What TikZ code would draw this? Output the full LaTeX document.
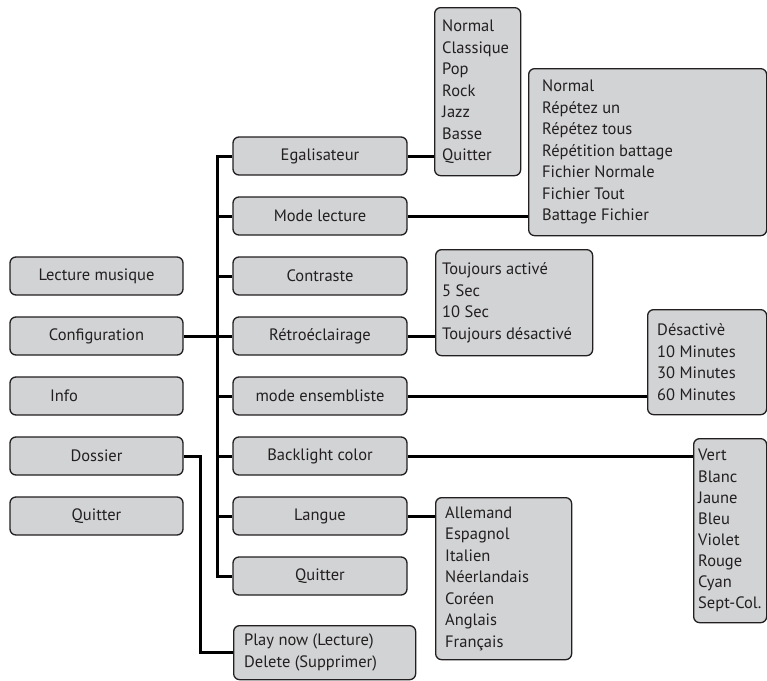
\documentclass[tikz,border=0pt]{standalone}
\usepackage{fontspec}
\setmainfont{PT Sans}
\definecolor{boxfill}{HTML}{D1D3D4}
\definecolor{ink}{HTML}{231F20}
\begin{document}
\begin{tikzpicture}[x=1pt,y=-1pt,
  every node/.style={font=\fontsize{16.5}{21.5}\selectfont, text=ink},
  mbox/.style={draw=ink, fill=boxfill, line width=1.3pt, rounded corners=6pt, minimum width=173pt, minimum height=38pt, inner sep=0pt},
  lbox/.style={draw=ink, fill=boxfill, line width=1.3pt, rounded corners=6pt, anchor=north west, inner sep=0pt},
  ltext/.style={anchor=west, align=left, inner sep=0pt},
  conn/.style={draw=black, line width=3pt}]
\useasboundingbox (0,0) rectangle (767,680);
% main menu
\node[mbox] (lecture) at (96.5,276) {Lecture musique};
\node[mbox] (config) at (96.5,336) {Configuration};
\node[mbox] (info) at (96.5,396) {Info\kern65pt\relax};
\node[mbox] (dossier) at (96.5,456) {Dossier};
\node[mbox] (quit1) at (96.5,516) {Quitter};
% configuration submenu
\node[mbox, minimum width=174pt] (egal) at (320,156) {Egalisateur};
\node[mbox, minimum width=174pt] (mode) at (320,216) {Mode lecture};
\node[mbox, minimum width=174pt] (contr) at (320,276) {Contraste};
\node[mbox, minimum width=174pt] (retro) at (320,336) {Rétroéclairage};
\node[mbox, minimum width=174pt] (ens) at (320,396) {mode ensembliste};
\node[mbox, minimum width=174pt] (back) at (320,456) {Backlight color};
\node[mbox, minimum width=174pt] (langue) at (320,516) {Langue};
\node[mbox, minimum width=174pt] (quit2) at (320,576) {Quitter};
% option lists
\node[lbox, minimum width=86pt, minimum height=168pt] (eqbox) at (434,7) {};
\node[ltext] (eqtxt) at ([xshift=8pt]eqbox.west) {Normal\\Classique\\Pop\\Rock\\Jazz\\Basse\\Quitter};
\node[lbox, minimum width=238pt, minimum height=167pt] (mlbox) at (528,68) {};
\node[ltext] (mltxt) at ([xshift=14pt]mlbox.west) {Normal\\Répétez un\\Répétez tous\\Répétition battage\\Fichier Normale\\Fichier Tout\\Battage Fichier};
\node[lbox, minimum width=157pt, minimum height=106pt] (rtbox) at (435,249) {};
\node[ltext] (rttxt) at ([xshift=7pt]rtbox.west) {Toujours activé\\5 Sec\\10 Sec\\Toujours désactivé};
\node[lbox, minimum width=119pt, minimum height=105pt] (ensbox) at (647,309) {};
\node[ltext] (enstxt) at ([xshift=10pt]ensbox.west) {Désactivè\\10 Minutes\\30 Minutes\\60 Minutes};
\node[lbox, minimum width=73pt, minimum height=184pt] (blbox) at (693,438) {};
\node[ltext, font=\fontsize{16.5}{21.1}\selectfont] (bltxt) at ([xshift=5pt]blbox.west) {Vert\\Blanc\\Jaune\\Bleu\\Violet\\Rouge\\Cyan\\Sept-Col.};
\node[lbox, minimum width=136pt, minimum height=162pt] (lgbox) at (435,497) {};
\node[ltext] (lgtxt) at ([xshift=10pt]lgbox.west) {Allemand\\Espagnol\\Italien\\Néerlandais\\Coréen\\Anglais\\Français};
\node[lbox, minimum width=182pt, minimum height=54pt] (play) at (233,625) {};
\node[ltext] (playtxt) at ([xshift=11pt]play.west) {Play now (Lecture)\\Delete (Supprimer)};
% connectors
\coordinate (bx) at (217,0);
\coordinate (dx) at (200,0);
\draw[conn] (config.east) -- (config.east -| bx);
\draw[conn] (egal.west) -- (egal.west -| bx) |- (quit2.west);
\foreach \n in {mode,contr,retro,ens,back,langue} \draw[conn] (\n.west) -- (\n.west -| bx);
\draw[conn] (dossier.east) -- (dossier.east -| dx) |- (play.west);
\draw[conn] (egal.east) -- (egal.east -| eqbox.west);
\draw[conn] (mode.east) -- (mode.east -| mlbox.west);
\draw[conn] (retro.east) -- (retro.east -| rtbox.west);
\draw[conn] (ens.east) -- (ens.east -| ensbox.west);
\draw[conn] (back.east) -- (back.east -| blbox.west);
\draw[conn] (langue.east) -- (langue.east -| lgbox.west);
\end{tikzpicture}
\end{document}
